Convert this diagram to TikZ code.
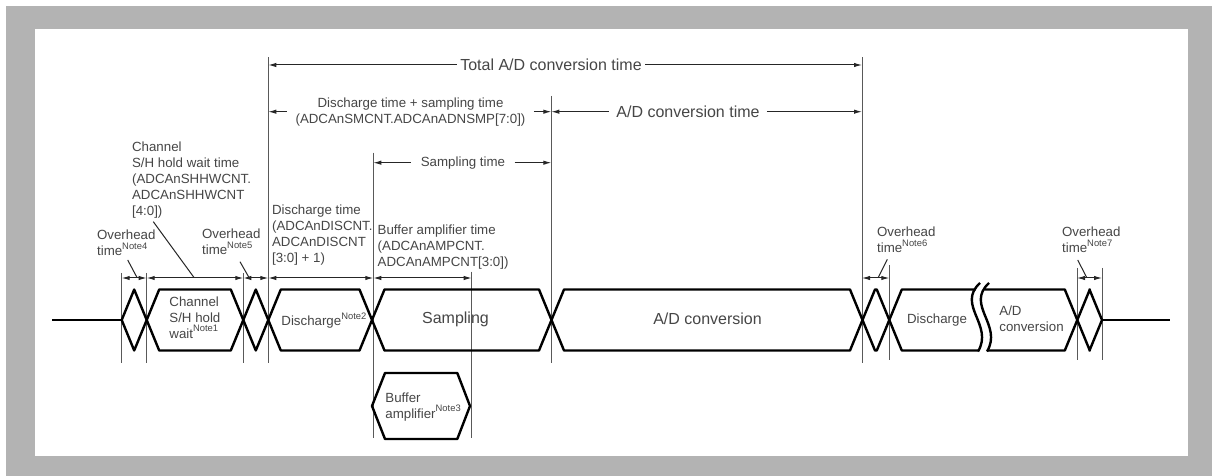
\documentclass[tikz,border=0pt]{standalone}
\usepackage{fontspec}
\setmainfont{Liberation Sans}
\usepackage{tikz}
\usetikzlibrary{arrows.meta, positioning, calc}

\definecolor{framegray}{RGB}{179,179,179}
\definecolor{txtgray}{RGB}{70,70,70}
\newcommand{\nt}[1]{\raisebox{3.2pt}{\fontsize{4.7}{5}\selectfont Note#1}}

\tikzset{
  lbl/.style={font=\fontsize{6.65}{8}\selectfont, text=txtgray, inner sep=0pt, align=left, anchor=base west},
  big/.style={font=\fontsize{8}{9.6}\selectfont, text=txtgray, inner ysep=0pt},
  tick/.style={draw=black!65, line width=0.5pt},
  dim/.style={draw=black!85, line width=0.5pt},
  lead/.style={draw=black!85, line width=0.5pt},
  wave/.style={line width=1.2pt, line join=round},
}

\begin{document}
\begin{tikzpicture}[>={Latex[length=4pt,width=2.2pt]}, x=0.5pt, y=-0.5pt]
  \useasboundingbox (0,0) rectangle (1212,476);
  \fill[framegray] (6,6) rectangle (1212,476);
  \fill[white] (35,29) rectangle (1188,456);

  % marker lines
  \foreach \n/\x/\t/\b in {1/121.7/273/362.7, 2/146.7/273/362.7, 3/243.3/273/362.7,
      4/268.3/57.3/362.7, 5/373.3/152.7/438, 6/471.7/271.7/438, 7/551.3/96/363,
      8/862/57.3/362.7, 9/889.3/265/360, 10/1077/268/360, 11/1102/268/360} {
    \coordinate (t\n) at (\x,\t);
    \coordinate (b\n) at (\x,\b);
    \draw[tick] (t\n) -- (b\n);
  }
  \coordinate (row) at (0,278);

  % waveform
  \draw[wave] (52,320) -- (121.7,320);
  \foreach \a/\b in {121.7/146.7, 146.7/243.3, 243.3/268.3, 268.3/372, 372/551.5,
      551.5/862.5, 862.5/889.3, 1077.3/1102}
    \draw[wave] (\a,320) -- (\a+12.5,289.5) -- (\b-12.5,289.5) -- (\b,320)
      -- (\b-12.5,350.5) -- (\a+12.5,350.5) -- cycle;
  \draw[wave] (975.5,289.5) -- (901.8,289.5) -- (889.3,320) -- (901.8,350.5) -- (978,350.5);
  \draw[wave] (984.5,289.5) -- (1064.8,289.5) -- (1077.3,320) -- (1064.8,350.5) -- (987,350.5);
  \draw[wave] (1102,320) -- (1170,320);
  \draw[wave] (980,283) .. controls (956,305) and (994,325) .. (978,351.5);
  \draw[wave] (989,283) .. controls (965,305) and (1003,325) .. (987,351.5);
  % buffer amplifier
  \draw[wave] (372,406) -- (385,373) -- (457.3,373) -- (470,406) -- (457.3,439) -- (385,439) -- cycle;

  % texts in the waveform (base = last line)
  \node[lbl] (shw1) at (169,338) {Channel\\S/H hold\\wait\nt{1}};
  \node[lbl] (dis1) at (281,325.5) {Discharge\nt{2}};
  \node[big] (smp) at (455.5,319) {Sampling};
  \node[big] (adc) at (707.5,318.3) {A/D conversion};
  \node[lbl] (buf) at (385,418) {Buffer\\amplifier\nt{3}};
  \node[lbl] (dis2) at (906.7,323.8) {Discharge};
  \node[lbl] (adc2) at (999,331.2) {A/D\\conversion};

  % labels above
  \node[lbl] (ov4) at (96.7,255.5) {Overhead\\time\nt{4}};
  \node[lbl] (ov5) at (201.7,254.8) {Overhead\\time\nt{5}};
  \node[lbl] (ov6) at (876.7,252.8) {Overhead\\time\nt{6}};
  \node[lbl] (ov7) at (1061.7,252.8) {Overhead\\time\nt{7}};
  \node[lbl] (shw) at (131.7,215.2) {Channel\\S/H hold wait time\\(ADCAnSHHWCNT.\\ADCAnSHHWCNT\\{[4:0])}};
  \node[lbl] (dst) at (271.7,262.8) {Discharge time\\(ADCAnDISCNT.\\ADCAnDISCNT\\{[3:0] + 1)}};
  \node[lbl] (bat) at (377.3,266) {Buffer amplifier time\\(ADCAnAMPCNT.\\ADCAnAMPCNT[3:0])};

  % pointers
  \coordinate (p4) at (127.7,260);    \coordinate (q4) at (137,277.5);
  \coordinate (pc) at (153.3,221.7);  \coordinate (qc) at (194,277.5);
  \coordinate (p5) at (240,261.7);    \coordinate (q5) at (249,277.5);
  \coordinate (p6) at (887.3,259.3);  \coordinate (q6) at (878.3,277.5);
  \coordinate (p7) at (1077.7,260);   \coordinate (q7) at (1086.7,277.5);
  \draw[lead] (p4) -- (q4);
  \draw[lead] (pc) -- (qc);
  \draw[lead] (p5) -- (q5);
  \draw[lead] (p6) -- (q6);
  \draw[lead] (p7) -- (q7);

  % lower dimension row
  \draw[dim,<->] (t1 |- row) -- (t2 |- row);
  \draw[dim,<->] (t2 |- row) -- (t3 |- row);
  \draw[dim,<->] (t3 |- row) -- (t4 |- row);
  \draw[dim,<->] (t4 |- row) -- (t5 |- row);
  \draw[dim,<->] (t5 |- row) -- (t6 |- row);
  \draw[dim,<->] (t8 |- row) -- (t9 |- row);
  \draw[dim,<->] (t10 |- row) -- (t11 |- row);

  % upper spans
  \node[big, inner xsep=1.5pt] (tot) at (551,65) {Total A/D conversion time};
  \node[lbl, anchor=center, align=center, inner xsep=4pt] (dsp) at (410.5,111.7)
    {Discharge time + sampling time\\(ADCAnSMCNT.ADCAnADNSMP[7:0])};
  \node[big, inner xsep=3.5pt] (adt) at (688,111.7) {A/D conversion time};
  \node[lbl, anchor=center, inner xsep=4.5pt] (spt) at (463,162.7) {Sampling time};
  \draw[dim,<-] (t4 |- tot) -- (tot.west);
  \draw[dim,->] (tot.east) -- (t8 |- tot);
  \draw[dim,<-] (t4 |- dsp) -- (dsp.west);
  \draw[dim,->] (dsp.east) -- (t7 |- dsp);
  \draw[dim,<-] (t7 |- adt) -- (adt.west);
  \draw[dim,->] (adt.east) -- (t8 |- adt);
  \draw[dim,<-] (t5 |- spt) -- (spt.west);
  \draw[dim,->] (spt.east) -- (t7 |- spt);
\end{tikzpicture}
\end{document}
